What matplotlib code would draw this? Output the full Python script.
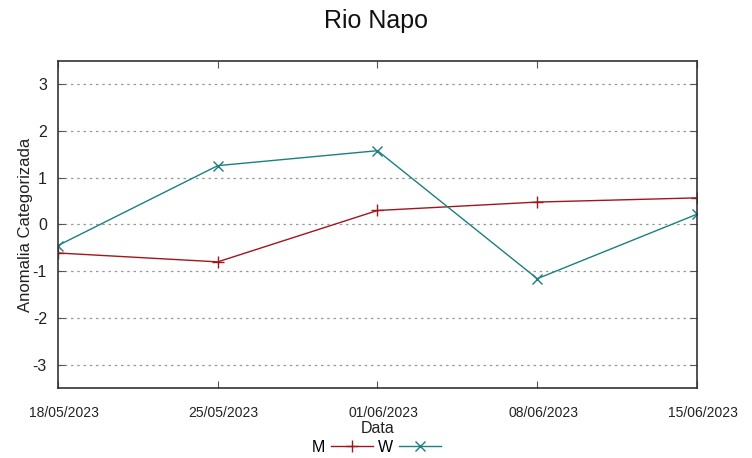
import matplotlib
matplotlib.use("Agg")
import matplotlib.pyplot as plt
import matplotlib.transforms as mtransforms
import pandas as pd

dates = ["18/05/2023", "25/05/2023", "01/06/2023", "08/06/2023", "15/06/2023"]
m_values = [-0.61, -0.80, 0.30, 0.48, 0.57]
w_values = [-0.45, 1.26, 1.58, -1.16, 0.22]
y_ticks = [-3, -2, -1, 0, 1, 2, 3]

plt.rcParams['font.family'] = ['Liberation Sans', 'DejaVu Sans']

x = pd.to_datetime(dates, format="%d/%m/%Y")

fig = plt.figure(figsize=(7.52, 4.58), dpi=100)
ax = fig.add_axes([58/752, 1-388/458, (697-58)/752, (388-61)/458])

ax.plot(x, m_values, color="#a0161c", lw=1.0, marker="+", ms=9, mew=1.0, label="M")
ax.plot(x, w_values, color="#1a8080", lw=1.0, marker="x", ms=7, mew=1.0, label="W")

ax.set_xlim(x[0], x[-1])
ax.set_ylim(-3.5, 3.5)
ax.set_yticks(y_ticks)
ax.set_yticklabels([str(t) for t in y_ticks], fontsize=11.5, color="#222222")
ax.set_xticks(x)
ax.set_xticklabels(dates, fontsize=10, color="#222222")
ax.tick_params(axis="x", direction="in", top=True, pad=13, length=5, color="#555555")
ax.tick_params(axis="y", direction="in", right=True, pad=8, length=5, color="#555555")
offset = mtransforms.ScaledTranslation(6/100, 0, fig.dpi_scale_trans)
for lab in ax.get_xticklabels():
    lab.set_transform(lab.get_transform() + offset)
ax.grid(axis="y", linestyle=(0, (2, 3)), color="#999999", lw=0.9)
ax.set_axisbelow(True)
for s in ax.spines.values():
    s.set_color("#333333")
    s.set_linewidth(1.2)

ax.set_ylabel("Anomalia Categorizada", fontsize=12, color="#222222", labelpad=0)
ax.set_xlabel("Data", fontsize=11.5, color="#222222", labelpad=1)
fig.text(0.5, 1-21/458, "Rio Napo", ha="center", va="center", fontsize=18, color="#111111")

leg = fig.legend(loc="center", bbox_to_anchor=(376/752, 1-447/458), ncol=2, frameon=False,
                 markerfirst=False, fontsize=11.5, handlelength=2.6, columnspacing=0.3,
                 handletextpad=0.4, borderpad=0)

fig.savefig("out.png", dpi=100)
